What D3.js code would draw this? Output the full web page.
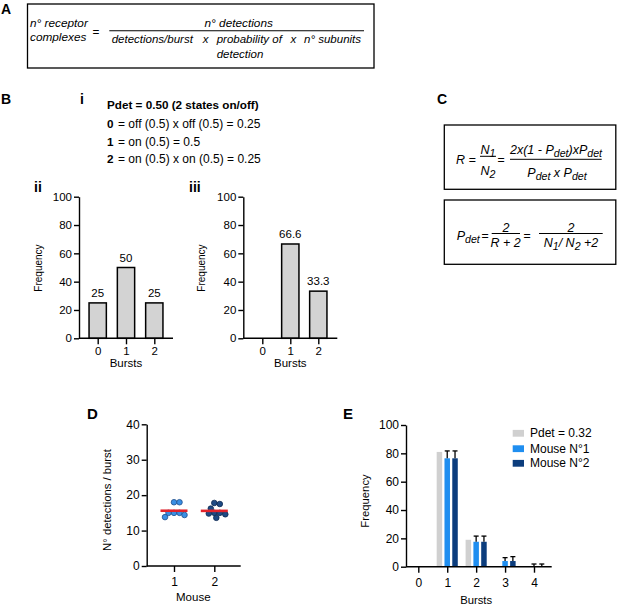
<!DOCTYPE html>
<html><head><meta charset="utf-8">
<script src="https://cdn.jsdelivr.net/npm/d3@7"></script>
<style>
body{margin:0;background:#fff}
svg{display:block}
text{font-family:"Liberation Sans",Arial,Helvetica,sans-serif;fill:#000}
</style>
</head><body>
<svg id="c" width="617" height="606"></svg>
<script>
// ---------- DATA ----------
const burstsB = [0, 1, 2];
const freqII = [25, 50, 25];
const freqIII = [0, 66.6, 33.3];
const labelsII = ["25", "50", "25"];
const labelsIII = ["", "66.6", "33.3"];
const yTicksB = [0, 20, 40, 60, 80, 100];

const mouseIds = [1, 2];
const mouse1Det = [15.0, 15.0, 15.0, 18.0, 18.0, 14.4, 13.8];
const mouse2Det = [15.0, 15.0, 14.8, 17.8, 17.5, 16.2, 14.6, 13.6];
const yTicksD = [0, 10, 20, 30, 40];

const burstsE = [0, 1, 2, 3, 4];
const pdetFreq = [0, 81, 19, 0, 0];
const mouse1Freq = [0, 76.5, 17.6, 4.0, 0.4];
const mouse1Err = [0, 5.2, 4.0, 2.4, 1.5];
const mouse2Freq = [0, 76.5, 17.6, 4.0, 0.4];
const mouse2Err = [0, 5.2, 4.0, 3.1, 1.5];
const yTicksE = [0, 20, 40, 60, 80, 100];
const legendE = ["Pdet = 0.32", "Mouse N°1", "Mouse N°2"];

const bLines = [
  ["0", "= off (0.5) x off (0.5) = 0.25"],
  ["1", "= on (0.5) = 0.5"],
  ["2", "= on (0.5) x on (0.5) = 0.25"]
];

// ---------- HELPERS ----------
const svg = d3.select("#c");
const AX = 1.4;
function txt(x, y, s, o = {}) {
  const t = svg.append("text").attr("x", x).attr("y", y).text(s)
    .attr("text-anchor", o.anchor || "start")
    .style("font-size", (o.size || 11) + "px");
  if (o.bold) t.style("font-weight", "bold");
  if (o.italic) t.style("font-style", "italic");
  if (o.rotate) t.attr("transform", `rotate(-90,${x},${y})`).attr("dy", "0.35em");
  return t;
}
function hline(x1, x2, y, w = 1) {
  svg.append("line").attr("x1", x1).attr("x2", x2).attr("y1", y).attr("y2", y)
    .attr("stroke", "#000").attr("stroke-width", w);
}
function styleAxis(g, fs) {
  g.attr("font-family", null).attr("font-size", null);
  g.selectAll("path,line").attr("stroke", "#000").attr("stroke-width", AX);
  g.selectAll("text").style("font-size", fs + "px").attr("fill", "#000");
}
function yAxis(scale, x, ticks, fs, size = 5) {
  const g = svg.append("g").attr("transform", `translate(${x},0)`)
    .call(d3.axisLeft(scale).tickValues(ticks).tickSize(size).tickPadding(2).tickSizeOuter(0));
  styleAxis(g, fs);
}
function xAxis(scale, y, ticks, fs, x0, x1, size, pad) {
  const g = svg.append("g").attr("transform", `translate(0,${y})`)
    .call(d3.axisBottom(scale).tickValues(ticks).tickSize(size).tickPadding(pad).tickFormat(d3.format("d")));
  g.select(".domain").remove();
  styleAxis(g, fs);
  hline(x0, x1, y, AX);
}
function ftext(x, y, parts, anchor = "start", size = 12.5) {
  const t = svg.append("text").attr("x", x).attr("y", y).attr("text-anchor", anchor)
    .style("font-size", size + "px").style("font-style", "italic");
  let cur = 0;
  parts.forEach(p => {
    const sub = Array.isArray(p);
    const target = sub ? 3 : 0;
    t.append("tspan").attr("dy", target - cur)
      .style("font-size", sub ? (size * 0.85) + "px" : null).text(sub ? p[0] : p);
    cur = target;
  });
}
function box(x, y, w, h) {
  svg.append("rect").attr("x", x).attr("y", y).attr("width", w).attr("height", h)
    .attr("fill", "none").attr("stroke", "#000").attr("stroke-width", 1.3);
}

// ---------- PANEL A ----------
txt(1, 14, "A", { bold: true, size: 14 });
box(27.5, 4, 346.5, 64);
txt(30, 26.7, "n° receptor", { italic: true, size: 11.8 });
txt(30, 40.7, "complexes", { italic: true, size: 11.8 });
txt(92.5, 36, "=", { size: 11.8 });
txt(238.7, 27, "n° detections", { italic: true, size: 11.8, anchor: "middle" });
hline(109.3, 364, 30.7, 1.1);
txt(111.7, 43.3, "detections/burst", { italic: true, size: 11.5 });
txt(205.7, 43.3, "x", { italic: true, size: 11.5, anchor: "middle" });
txt(216.7, 43.3, "probability of", { italic: true, size: 11.5 });
txt(293.3, 43.3, "x", { italic: true, size: 11.5, anchor: "middle" });
txt(304, 43.3, "n° subunits", { italic: true, size: 11.5 });
txt(216.7, 58.3, "detection", { italic: true, size: 11.5 });

// ---------- PANEL B ----------
txt(1, 104, "B", { bold: true, size: 14 });
txt(80, 104, "i", { bold: true, size: 14 });
txt(107, 108.5, "Pdet = 0.50 (2 states on/off)", { bold: true, size: 11.7 });
const bBase = [128, 145.7, 163];
bLines.forEach((l, i) => {
  txt(107, bBase[i], l[0], { bold: true, size: 11.7 });
  txt(118, bBase[i], l[1], { size: 12 });
});

const yB = d3.scaleLinear().domain([0, 100]).range([338.3, 196.7]);
function barPanel(xScale, axisX, axisEnd, freq, labels) {
  const bw = 17.3;
  svg.append("g").selectAll("rect").data(burstsB.filter((d, i) => freq[i] > 0)).join("rect")
    .attr("x", d => xScale(d) - bw / 2).attr("width", bw)
    .attr("y", d => yB(freq[d])).attr("height", d => yB(0) - yB(freq[d]))
    .attr("fill", "#d3d3d3").attr("stroke", "#000").attr("stroke-width", 1.5);
  burstsB.forEach((d, i) => {
    if (labels[i]) txt(xScale(d), yB(freq[i]) - 6, labels[i], { size: 11.5, anchor: "middle" });
  });
  yAxis(yB, axisX, yTicksB, 11.5, 5);
  xAxis(xScale, yB(0), burstsB, 11.5, axisX, axisEnd, 6, 2.5);
  txt(xScale(1), 367, "Bursts", { size: 11.5, anchor: "middle" });
}
const xII = d3.scaleLinear().domain([0, 2]).range([97.7, 154.3]);
const xIII = d3.scaleLinear().domain([0, 2]).range([262.3, 318.3]);
txt(34, 192, "ii", { bold: true, size: 14 });
txt(189, 192, "iii", { bold: true, size: 14 });
barPanel(xII, 79, 173, freqII, labelsII);
barPanel(xIII, 243.3, 337.3, freqIII, labelsIII);
txt(38, 268, "Frequency", { size: 10, anchor: "middle", rotate: true });
txt(201.7, 268, "Frequency", { size: 10, anchor: "middle", rotate: true });

// ---------- PANEL C ----------
txt(437, 104, "C", { bold: true, size: 14 });
box(444.3, 125, 171.5, 64.3);
box(444.3, 200, 171.5, 64.3);
ftext(456, 164, ["R ="]);
ftext(488, 154, ["N", ["1"]], "middle");
hline(480, 496, 156.3, 1);
ftext(488, 175, ["N", ["2"]], "middle");
ftext(501, 164, ["="], "middle");
ftext(556, 154, ["2x(1 - P", ["det"], ")xP", ["det"]], "middle");
hline(510, 601.7, 159.3, 1);
ftext(557, 177, ["P", ["det"], " x P", ["det"]], "middle");

ftext(456.7, 240, ["P", ["det"]]);
ftext(485, 240, ["="], "middle");
ftext(506, 231.5, ["2"], "middle");
hline(491.7, 520, 233.5, 1);
ftext(505.5, 246.5, ["R + 2"], "middle");
ftext(527, 240, ["="], "middle");
ftext(571, 231.5, ["2"], "middle");
hline(539, 602.7, 233.5, 1);
ftext(571, 246.5, ["N", ["1"], "/ N", ["2"], " +2"], "middle");

// ---------- PANEL D ----------
txt(87, 419, "D", { bold: true, size: 15 });
const yD = d3.scaleLinear().domain([0, 40]).range([566, 424.3]);
const xD = d3.scaleLinear().domain([1, 2]).range([174, 214.3]);
yAxis(yD, 146.7, yTicksD, 12, 5);
xAxis(xD, yD(0), mouseIds, 12, 146.7, 240.7, 6, 5.5);
txt(193.3, 601, "Mouse", { size: 11.5, anchor: "middle" });
txt(106.7, 500, "N° detections / burst", { size: 11.3, anchor: "middle", rotate: true });

function swarm(values, cx, r) {
  const placed = [];
  const d = 2 * r * 0.95;
  values.forEach(v => {
    const y = yD(v);
    let off = 0;
    for (let k = 0; k < 400; k++) {
      const cand = (k % 2 === 0 ? -1 : 1) * Math.ceil(k / 2) * 0.5;
      if (placed.every(p => Math.hypot(p.x - (cx + cand), p.y - y) >= d)) { off = cand; break; }
    }
    placed.push({ x: cx + off, y });
  });
  return placed;
}
const dGroups = [
  { id: 1, vals: mouse1Det, fill: "#3a8fe4", stroke: "#1f4f8c" },
  { id: 2, vals: mouse2Det, fill: "#1e4a84", stroke: "#0c2850" }
];
const R = 2.8;
dGroups.forEach(gr => {
  const pts = swarm(gr.vals, xD(gr.id), R);
  svg.append("g").selectAll("circle").data(pts).join("circle")
    .attr("cx", p => p.x).attr("cy", p => p.y).attr("r", R)
    .attr("fill", gr.fill).attr("stroke", gr.stroke).attr("stroke-width", 0.8);
  const m = d3.mean(gr.vals);
  svg.append("line").attr("x1", xD(gr.id) - 13.5).attr("x2", xD(gr.id) + 13.5)
    .attr("y1", yD(m)).attr("y2", yD(m)).attr("stroke", "#e3232b").attr("stroke-width", 2.6);
});

// ---------- PANEL E ----------
txt(343, 419, "E", { bold: true, size: 15 });
const yE = d3.scaleLinear().domain([0, 100]).range([566.7, 425]);
const xE = d3.scaleLinear().domain([0, 4]).range([418.3, 534]);
const series = [
  { vals: pdetFreq, err: null, color: "#d0d0d0", off: -7.8 },
  { vals: mouse1Freq, err: mouse1Err, color: "#1f8ef0", off: 0 },
  { vals: mouse2Freq, err: mouse2Err, color: "#0c3d7d", off: 7.8 }
];
const bwE = 5.5;
series.forEach(s => {
  svg.append("g").selectAll("rect").data(burstsE.filter(d => s.vals[d] > 0)).join("rect")
    .attr("x", d => xE(d) + s.off - bwE / 2).attr("width", bwE)
    .attr("y", d => yE(s.vals[d])).attr("height", d => yE(0) - yE(s.vals[d]))
    .attr("fill", s.color);
  if (s.err) {
    burstsE.filter(d => s.err[d] > 0).forEach(d => {
      const cx = xE(d) + s.off;
      const yTop = yE(s.vals[d] + s.err[d]);
      svg.append("line").attr("x1", cx).attr("x2", cx).attr("y1", yE(s.vals[d])).attr("y2", yTop)
        .attr("stroke", "#000").attr("stroke-width", 1.3);
      svg.append("line").attr("x1", cx - 2.5).attr("x2", cx + 2.5).attr("y1", yTop).attr("y2", yTop)
        .attr("stroke", "#000").attr("stroke-width", 1.3);
    });
  }
});
yAxis(yE, 406, yTicksE, 12, 5);
xAxis(xE, yE(0), burstsE, 12, 406, 551.7, 6, 5.5);
txt(xE(2), 604, "Bursts", { size: 11.3, anchor: "middle" });
txt(365.5, 501, "Frequency", { size: 11.3, anchor: "middle", rotate: true });
const legY = [433.3, 448.7, 463.3];
legendE.forEach((l, i) => {
  svg.append("rect").attr("x", 512.7).attr("y", legY[i] - 3.4).attr("width", 11.3).attr("height", 6.8)
    .attr("fill", series[i].color);
  txt(530, legY[i] + 4, l, { size: 12 });
});
</script>
</body></html>
